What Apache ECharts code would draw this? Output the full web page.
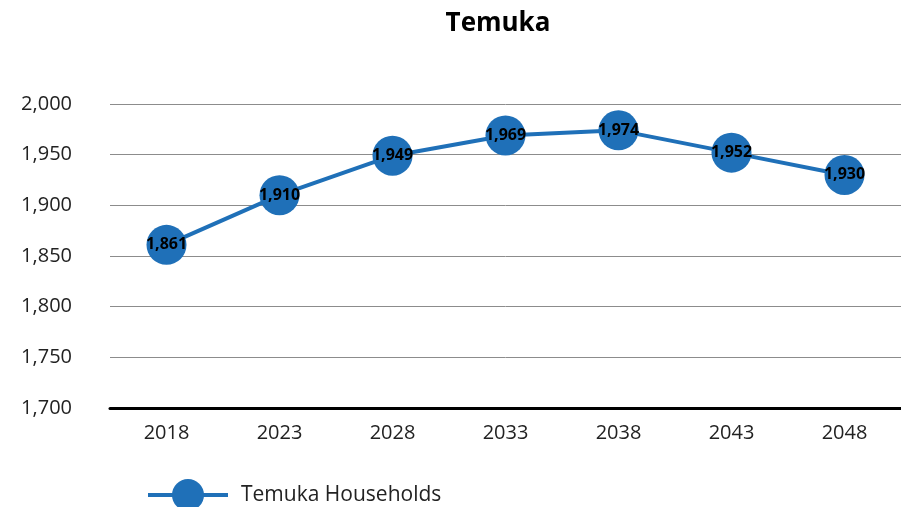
<!DOCTYPE html>
<html>
<head>
<meta charset="utf-8">
<script src="https://cdn.jsdelivr.net/npm/echarts@6/dist/echarts.min.js"></script>
<style>
  html, body { margin: 0; padding: 0; background: #fff; }
  #main { width: 901px; height: 507px; }
</style>
</head>
<body>
<div id="main"></div>
<script>
// data
var years = ['2018', '2023', '2028', '2033', '2038', '2043', '2048'];
var households = [1861, 1910, 1949, 1969, 1974, 1952, 1930];
var seriesName = 'Temuka Households';

function fmt(v) {
    return String(v).replace(/\B(?=(\d{3})+(?!\d))/g, ',');
}

var myChart = echarts.init(document.getElementById('main'));

myChart.setOption({
    backgroundColor: '#fff',
    textStyle: { fontFamily: 'Open Sans' },
    title: {
        text: 'Temuka',
        left: 493,
        textAlign: 'center',
        top: 6,
        textStyle: { fontSize: 26, fontWeight: 'bold', color: '#000', fontFamily: 'Open Sans' }
    },
    legend: {
        left: 141,
        top: 474,
        itemWidth: 80,
        itemHeight: 40,
        itemGap: 10,
        lineStyle: { width: 4 },
        textStyle: { fontSize: 21, color: '#222', fontFamily: 'Open Sans', padding: [0, 0, 0, 8] },
        data: [seriesName]
    },
    grid: { left: 110, right: 0, top: 104, bottom: 99, containLabel: false },
    xAxis: {
        type: 'category',
        data: years,
        boundaryGap: true,
        axisLine: { lineStyle: { color: '#000', width: 3 } },
        axisTick: { show: false },
        axisLabel: { fontSize: 20, color: '#222', margin: 15 }
    },
    yAxis: {
        type: 'value',
        min: 1700,
        max: 2000,
        interval: 50,
        axisLine: { show: false },
        axisTick: { show: false },
        axisLabel: { fontSize: 20, color: '#222', margin: 38, formatter: fmt },
        splitLine: { lineStyle: { color: '#8c8c8c', width: 1 } }
    },
    series: [{
        name: seriesName,
        type: 'line',
        data: households,
        symbol: 'circle',
        symbolSize: 40,
        itemStyle: { color: '#1f70b8' },
        lineStyle: { color: '#1f70b8', width: 4 },
        label: {
            show: true,
            position: 'inside',
            formatter: function (p) { return fmt(p.value); },
            fontSize: 16,
            fontWeight: 'bold',
            color: '#000'
        }
    }]
});
</script>
</body>
</html>
